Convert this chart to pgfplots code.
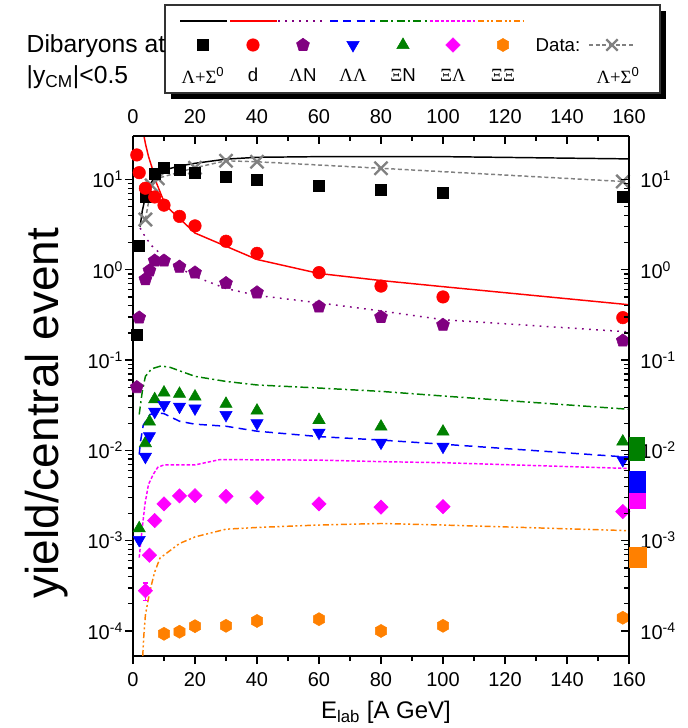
\documentclass[border=0pt]{standalone}
\usepackage{fontspec}
\setmainfont{Liberation Sans}
\newfontfamily\grk{Liberation Serif}
\usepackage{pgfplots}
\pgfplotsset{compat=1.18}

\definecolor{cPurple}{RGB}{128,0,128}
\definecolor{cGreen}{RGB}{0,128,0}
\definecolor{cOrange}{RGB}{255,128,0}
\definecolor{cMagenta}{RGB}{255,0,255}
\definecolor{cBlue}{RGB}{0,0,255}
\definecolor{cRed}{RGB}{255,0,0}
\definecolor{cGray}{RGB}{128,128,128}

% filled hexagon, pointed top
\pgfdeclareplotmark{hexagon*}{%
  \pgfpathmoveto{\pgfpointpolar{90}{\pgfplotmarksize}}%
  \pgfpathlineto{\pgfpointpolar{150}{\pgfplotmarksize}}%
  \pgfpathlineto{\pgfpointpolar{210}{\pgfplotmarksize}}%
  \pgfpathlineto{\pgfpointpolar{270}{\pgfplotmarksize}}%
  \pgfpathlineto{\pgfpointpolar{330}{\pgfplotmarksize}}%
  \pgfpathlineto{\pgfpointpolar{30}{\pgfplotmarksize}}%
  \pgfpathclose
  \pgfusepathqfillstroke}

\newcommand{\tickfont}{\fontsize{15}{18}\selectfont}
\newcommand{\legfont}{\fontsize{14}{16}\selectfont}

\pgfplotsset{
  model/.style={line width=1.1pt, no marks},
  pts/.style={only marks, mark options={solid, line width=0.4pt}},
  sBlack/.style={black},
  sRed/.style={cRed},
  sPurple/.style={cPurple, dash pattern=on 1.3pt off 4pt},
  sBlue/.style={cBlue, dash pattern=on 6pt off 4pt},
  sGreen/.style={cGreen, dash pattern=on 6pt off 2.5pt on 1.5pt off 2.5pt},
  sMagenta/.style={cMagenta, dash pattern=on 2.5pt off 1.5pt},
  sOrange/.style={cOrange, dash pattern=on 4.5pt off 2pt on 1.5pt off 2pt on 1.5pt off 2pt},
  sData/.style={cGray, dash pattern=on 3pt off 2pt},
  mBlack/.style={black, mark=square*, mark size=4.1pt},
  mRed/.style={cRed, mark=*, mark size=4.7pt},
  mPurple/.style={cPurple, mark=pentagon*, mark size=5.1pt},
  mBlue/.style={cBlue, mark=triangle*, mark size=5.3pt, mark options={solid, line width=0.4pt, rotate=180}},
  mGreen/.style={cGreen, mark=triangle*, mark size=5.3pt},
  mMagenta/.style={cMagenta, mark=square*, mark size=3.8pt, mark options={solid, line width=0.4pt, rotate=45}},
  mOrange/.style={cOrange, mark=hexagon*, mark size=4.9pt},
}

\begin{document}
\begin{tikzpicture}
\path[use as bounding box] (-99.75pt,-54pt) rectangle (416.25pt,492pt);

% ---- main axis: bottom and left scales, all curves and points
\begin{axis}[
  scale only axis, width=372pt, height=390pt,
  at={(0pt,0pt)}, anchor=south west,
  xmin=0, xmax=160, ymode=log, ymin=5.28e-5, ymax=30.3,
  xtick={0,20,...,160}, minor x tick num=1,
  ytick={1e-4,1e-3,1e-2,1e-1,1,10},
  yticklabels={10\textsuperscript{-4},10\textsuperscript{-3},10\textsuperscript{-2},10\textsuperscript{-1},10\textsuperscript{0},10\textsuperscript{1}},
  major tick length=6pt, minor tick length=3.75pt,
  tick style={black, line width=1pt},
  axis line style={line width=1.3pt},
  tick label style={font=\tickfont},
  /pgf/number format/assume math mode=true,
  axis x line*=bottom, axis y line*=left, tick align=outside,
  clip=false,
  xticklabel style={yshift=-3pt},
  yticklabel style={xshift=2pt},
]
% model curves
\addplot[model, sBlack] coordinates {(2.3,3.0) (3,4.5) (4,6.4) (5.5,8.8) (7,10.6) (10,12.7) (15,14.1) (20,15.1) (30,16.8) (40,17.6) (60,17.9) (80,17.9) (100,17.9) (160,16.9)};
\addplot[model, sRed] coordinates {(3.54,30.3) (4,25) (5,18) (6,14) (7.6,9.1) (9.8,5.9) (12,4.6) (15,3.7) (20,2.55) (40,1.3) (60,0.91) (80,0.76) (100,0.65) (160,0.41)};
\addplot[model, sPurple] coordinates {(2.3,2.9) (4,2.3) (6,1.85) (8,1.6) (10,1.4) (15,1.05) (20,0.84) (30,0.62) (40,0.52) (60,0.43) (80,0.35) (100,0.28) (160,0.205)};
\addplot[model, sBlue] coordinates {(2,0.009) (2.5,0.013) (3.3,0.019) (5.5,0.025) (8,0.026) (10,0.0255) (15,0.021) (20,0.0195) (30,0.0185) (40,0.0163) (60,0.0142) (80,0.013) (100,0.0117) (160,0.0084)};
\addplot[model, sGreen] coordinates {(2,0.025) (3,0.045) (4,0.066) (6,0.08) (9,0.086) (12,0.083) (20,0.066) (30,0.058) (40,0.053) (60,0.049) (80,0.045) (100,0.040) (160,0.0285)};
\addplot[model, sMagenta] coordinates {(2,6.5e-4) (3,1.4e-3) (3.9,2.6e-3) (5,4.2e-3) (6.5,5.4e-3) (8,6.5e-3) (10,6.9e-3) (20,6.9e-3) (28,7.9e-3) (60,7.8e-3) (80,7.5e-3) (100,7.3e-3) (160,6.3e-3)};
\addplot[model, sOrange] coordinates {(3.14,5.28e-5) (3.5,9e-5) (4,1.5e-4) (5,2.3e-4) (6,3.3e-4) (7,4.5e-4) (8.7,6.4e-4) (15,9.3e-4) (20,1.1e-3) (30,1.34e-3) (40,1.4e-3) (60,1.49e-3) (80,1.55e-3) (100,1.49e-3) (160,1.29e-3)};
% measured Lambda+Sigma0
\addplot[sData, line width=1.1pt, mark=x, mark size=7pt, mark options={solid, line width=1.8pt}] coordinates {(4,3.6) (6,8.6) (8,10.3) (20,13.5) (30,16.1) (40,15.7) (80,13.3) (158,9.5)};
% error bar of the lowest Xi-Lambda point
\addplot[cMagenta, line width=0.8pt, no marks] coordinates {(4,2.2e-4) (4,3.4e-4)};
\addplot[cMagenta, line width=0.8pt, no marks] coordinates {(3.1,3.4e-4) (4.9,3.4e-4)};
\addplot[cMagenta, line width=0.8pt, no marks] coordinates {(3.1,2.2e-4) (4.9,2.2e-4)};
% coalescence points
\addplot[pts, mBlack] coordinates {(1.23,0.19) (2,1.84) (4,6.5) (7,11.5) (10,13.4) (15,12.8) (20,12.0) (30,10.7) (40,9.9) (60,8.5) (80,7.7) (100,7.1) (158,6.4)};
\addplot[pts, mRed] coordinates {(1.23,18.7) (2,11.9) (4,8.0) (7,6.4) (10,5.2) (15,3.9) (20,3.06) (30,2.07) (40,1.52) (60,0.93) (80,0.66) (100,0.50) (158,0.295)};
\addplot[pts, mPurple] coordinates {(1.23,0.050) (2,0.295) (4,0.785) (5.3,0.98) (7,1.26) (10,1.26) (15,1.08) (20,0.93) (30,0.71) (40,0.56) (60,0.39) (80,0.30) (100,0.245) (158,0.164)};
\addplot[pts, mGreen] coordinates {(2,1.37e-3) (4,0.0120) (5.3,0.0208) (7,0.0368) (10,0.0436) (15,0.0422) (20,0.0394) (30,0.0327) (40,0.0275) (60,0.0217) (80,0.0183) (100,0.0161) (158,0.0125)};
\addplot[pts, mBlue] coordinates {(2,1.02e-3) (4,8.5e-3) (5.3,0.0144) (7,0.0268) (10,0.0318) (15,0.0305) (20,0.0292) (30,0.0247) (40,0.020) (60,0.0157) (80,0.0122) (100,0.011) (158,7.8e-3)};
\addplot[pts, mMagenta] coordinates {(4,2.79e-4) (5.3,6.9e-4) (7,1.67e-3) (10,2.55e-3) (15,3.13e-3) (20,3.15e-3) (30,3.1e-3) (40,3.0e-3) (60,2.55e-3) (80,2.35e-3) (100,2.38e-3) (158,2.1e-3)};
\addplot[pts, mOrange] coordinates {(10,9.3e-5) (15,9.8e-5) (20,1.13e-4) (30,1.14e-4) (40,1.29e-4) (60,1.35e-4) (80,1.0e-4) (100,1.14e-4) (158,1.40e-4)};
\end{axis}

% ---- mirror axis: top and right scales, and the bars at the right edge
\begin{axis}[
  scale only axis, width=372pt, height=390pt,
  at={(0pt,0pt)}, anchor=south west,
  xmin=0, xmax=160, ymode=log, ymin=5.28e-5, ymax=30.3,
  xtick={0,20,...,160}, minor x tick num=1,
  ytick={1e-4,1e-3,1e-2,1e-1,1,10},
  yticklabels={10\textsuperscript{-4},10\textsuperscript{-3},10\textsuperscript{-2},10\textsuperscript{-1},10\textsuperscript{0},10\textsuperscript{1}},
  major tick length=6pt, minor tick length=3.75pt,
  tick style={black, line width=1pt},
  axis line style={line width=1.3pt},
  tick label style={font=\tickfont},
  /pgf/number format/assume math mode=true,
  axis x line*=top, axis y line*=right, tick align=inside,
  clip=false,
  xticklabel style={yshift=6pt},
  yticklabel style={xshift=5pt},
]
\addplot[fill=cGreen, draw=none] coordinates {(160.1,0.0077) (165.2,0.0077) (165.2,0.0142) (160.1,0.0142)};
\addplot[fill=cBlue, draw=none] coordinates {(160.1,3.35e-3) (165.6,3.35e-3) (165.6,5.96e-3) (160.1,5.96e-3)};
\addplot[fill=cMagenta, draw=none] coordinates {(160.1,2.23e-3) (165.6,2.23e-3) (165.6,3.35e-3) (160.1,3.35e-3)};
\addplot[fill=cOrange, draw=none] coordinates {(160.1,4.94e-4) (165.9,4.94e-4) (165.9,8.6e-4) (160.1,8.6e-4)};
\end{axis}

% ---- legend block
\begin{scope}[x=0.75pt,y=0.75pt]
  \fill[black] (38,645) rectangle (533,557);
  \filldraw[fill=white, draw=black!80, line width=0.9pt] (32,651) rectangle (527,563);
\end{scope}
\begin{axis}[scale only axis, width=371.25pt, height=66pt,
  at={(24pt,488.25pt)}, anchor=north west,
  xmin=0, xmax=495, ymin=-88, ymax=0, hide axis, clip=false]
\addplot[sBlack, line width=1.2pt, no marks] coordinates {(15,-16) (62,-16)};
\addplot[sRed, line width=1.2pt, no marks] coordinates {(65,-16) (112,-16)};
\addplot[sPurple, line width=1.2pt, no marks] coordinates {(113,-16) (160,-16)};
\addplot[sBlue, line width=1.2pt, no marks] coordinates {(165,-16) (210,-16)};
\addplot[sGreen, line width=1.2pt, no marks] coordinates {(215,-16) (262,-16)};
\addplot[sMagenta, line width=1.2pt, no marks] coordinates {(265,-16) (310,-16)};
\addplot[sOrange, line width=1.2pt, no marks] coordinates {(313,-16) (358,-16)};
\addplot[pts, mBlack] coordinates {(38,-40)};
\addplot[pts, mRed] coordinates {(88,-40)};
\addplot[pts, mPurple] coordinates {(138,-40)};
\addplot[pts, mBlue] coordinates {(188,-40)};
\addplot[pts, mGreen] coordinates {(238,-40)};
\addplot[pts, mMagenta] coordinates {(288,-40)};
\addplot[pts, mOrange] coordinates {(338,-40)};
\addplot[sData, line width=1.1pt, no marks] coordinates {(424,-40) (470,-40)};
\addplot[only marks, cGray, mark=x, mark size=6pt, mark options={solid, line width=1.8pt}] coordinates {(447,-40)};
\end{axis}

\begin{scope}[x=0.75pt,y=0.75pt]
  \begin{scope}[every node/.style={font=\legfont}]
    \node at (425,611) {Data:};
    \node at (70,581) {{\grk Λ+Σ}\textsuperscript{0}};
    \node at (120,581) {d};
    \node at (170,581) {{\grk Λ}N};
    \node at (220,581) {{\grk ΛΛ}};
    \node at (270,581) {{\grk Ξ}N};
    \node at (320,581) {{\grk ΞΛ}};
    \node at (370,581) {{\grk ΞΞ}};
    \node at (485,581) {{\grk Λ+Σ}\textsuperscript{0}};
  \end{scope}
  \node[anchor=west, font=\fontsize{18.5}{22}\selectfont] at (-111,610) {Dibaryons at};
  \node[anchor=west, font=\fontsize{18.5}{22}\selectfont] at (-111,579) {|y\textsubscript{CM}|<0.5};
  \node[rotate=90, font=\fontsize{34.5}{40}\selectfont] at (-86,243) {yield/central event};
  \node[font=\fontsize{18}{22}\selectfont] at (253,-56) {E\textsubscript{lab} [A GeV]};
\end{scope}
\end{tikzpicture}
\end{document}
